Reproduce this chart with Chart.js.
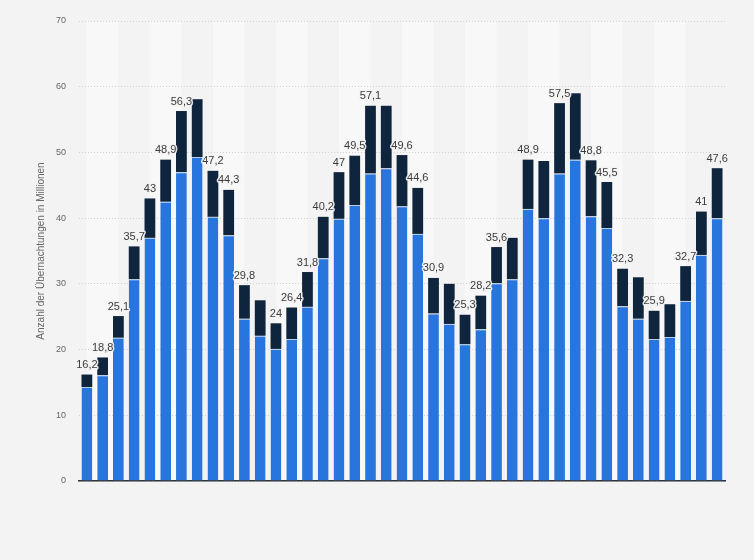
<!DOCTYPE html>
<html>
<head>
<meta charset="utf-8">
<script src="https://cdn.jsdelivr.net/npm/chart.js@4/dist/chart.umd.min.js"></script>
<style>
	html, body { margin: 0; padding: 0; background: #f3f3f3; }
	#wrap { width: 754px; height: 560px; }
</style>
</head>
<body>
<div id="wrap"><canvas id="grafica" width="754" height="560"></canvas></div>
<script>
const categorias = ["1","2","3","4","5","6","7","8","9","10","11","12","13","14","15","16","17","18","19","20","21","22","23","24","25","26","27","28","29","30","31","32","33","34","35","36","37","38","39","40","41"];

const valoresAzul = [14.3, 16.1, 21.8, 30.7, 37.0, 42.5, 47.0, 49.3, 40.2, 37.4, 24.7, 22.1, 20.1, 21.6, 26.5, 33.9, 39.9, 42.0, 46.8, 47.6, 41.8, 37.6, 25.5, 23.9, 20.8, 23.1, 30.1, 30.7, 41.4, 40.0, 46.8, 48.9, 40.3, 38.5, 26.6, 24.7, 21.6, 21.9, 27.4, 34.4, 40.0];

const valoresOscuro = [1.9, 2.7, 3.3, 5.0, 6.0, 6.4, 9.3, 8.8, 7.0, 6.9, 5.1, 5.4, 3.9, 4.8, 5.3, 6.3, 7.1, 7.5, 10.3, 9.5, 7.8, 7.0, 5.4, 6.1, 4.5, 5.1, 5.5, 6.3, 7.5, 8.7, 10.7, 10.1, 8.5, 7.0, 5.7, 6.3, 4.3, 5.0, 5.3, 6.6, 7.6];

const etiquetas = ["16,2","18,8","25,1","35,7","43","48,9","56,3",null,"47,2","44,3","29,8",null,"24","26,4","31,8","40,2","47","49,5","57,1",null,"49,6","44,6","30,9",null,"25,3","28,2","35,6",null,"48,9",null,"57,5",null,"48,8","45,5","32,3",null,"25,9",null,"32,7","41","47,6"];

const marcasY = [0, 10, 20, 30, 40, 50, 60, 70];

(function () {
	const ctx = document.getElementById("grafica");

	// franjas claras de fondo, cada cuatro barras
	const franjas = {
		id: "franjas",
		beforeDraw(chart) {
			const c = chart.ctx;
			const area = chart.chartArea;
			const x = chart.scales.x;
			c.save();
			c.fillStyle = "#f3f3f3";
			c.fillRect(0, 0, chart.width, chart.height);
			c.fillStyle = "#f8f8f8";
			for (let i = 0; i + 2 < categorias.length; i += 4) {
				const x0 = x.getPixelForValue(i);
				const x1 = x.getPixelForValue(i + 2);
				c.fillRect(x0, area.top, x1 - x0, area.bottom - area.top);
			}
			c.restore();
		},
	};

	// etiquetas de total encima de cada barra
	const totales = {
		id: "totales",
		afterDatasetsDraw(chart) {
			const c = chart.ctx;
			const meta = chart.getDatasetMeta(1);
			c.save();
			c.font = "11px 'Liberation Sans', Arial, sans-serif";
			c.textAlign = "center";
			c.textBaseline = "bottom";
			c.lineJoin = "round";
			meta.data.forEach((bar, i) => {
				const txt = etiquetas[i];
				if (!txt) return;
				c.strokeStyle = "rgba(243,243,243,0.9)";
				c.lineWidth = 3;
				c.strokeText(txt, bar.x, bar.y - 4);
				c.fillStyle = "#3c3c3c";
				c.fillText(txt, bar.x, bar.y - 4);
			});
			c.restore();
		},
	};

	new Chart(ctx, {
		type: "bar",
		data: {
			labels: categorias,
			datasets: [
				{
					data: valoresAzul,
					backgroundColor: "#2876dd",
					borderColor: "#b9cde8",
					borderWidth: { top: 1, left: 0, right: 0, bottom: 0 },
					borderSkipped: false,
					barPercentage: 0.76,
					categoryPercentage: 0.9,
				},
				{
					data: valoresOscuro,
					backgroundColor: "#0f253d",
					borderWidth: 0,
					barPercentage: 0.76,
					categoryPercentage: 0.9,
				},
			],
		},
		plugins: [franjas, totales],
		options: {
			responsive: false,
			animation: false,
			layout: {
				padding: { left: 35, right: 29, top: 21, bottom: 79 },
			},
			scales: {
				x: {
					stacked: true,
					ticks: { display: false },
					grid: { display: false },
					border: { display: true, color: "#333333", width: 1.5 },
					afterFit(scale) {
						scale.height = 0;
					},
				},
				y: {
					stacked: true,
					min: 0,
					max: 70,
					afterBuildTicks(scale) {
						scale.ticks = marcasY.map((v) => ({ value: v }));
					},
					ticks: {
						color: "#666666",
						padding: 13,
						font: { size: 9, family: "'Liberation Sans', Arial, sans-serif" },
					},
					grid: {
						color: "#d2d2d2",
						drawTicks: false,
						lineWidth: 1,
					},
					border: { display: false, dash: [1, 2] },
					title: {
						display: true,
						text: "Anzahl der Übernachtungen in Millionen",
						color: "#666666",
						font: { size: 10, family: "'Liberation Sans', Arial, sans-serif" },
						padding: { top: 0, bottom: 0 },
					},
					afterFit(scale) {
						scale.width = 44;
					},
				},
			},
			plugins: {
				legend: { display: false },
				tooltip: { enabled: false },
			},
		},
	});
})();
</script>
</body>
</html>
